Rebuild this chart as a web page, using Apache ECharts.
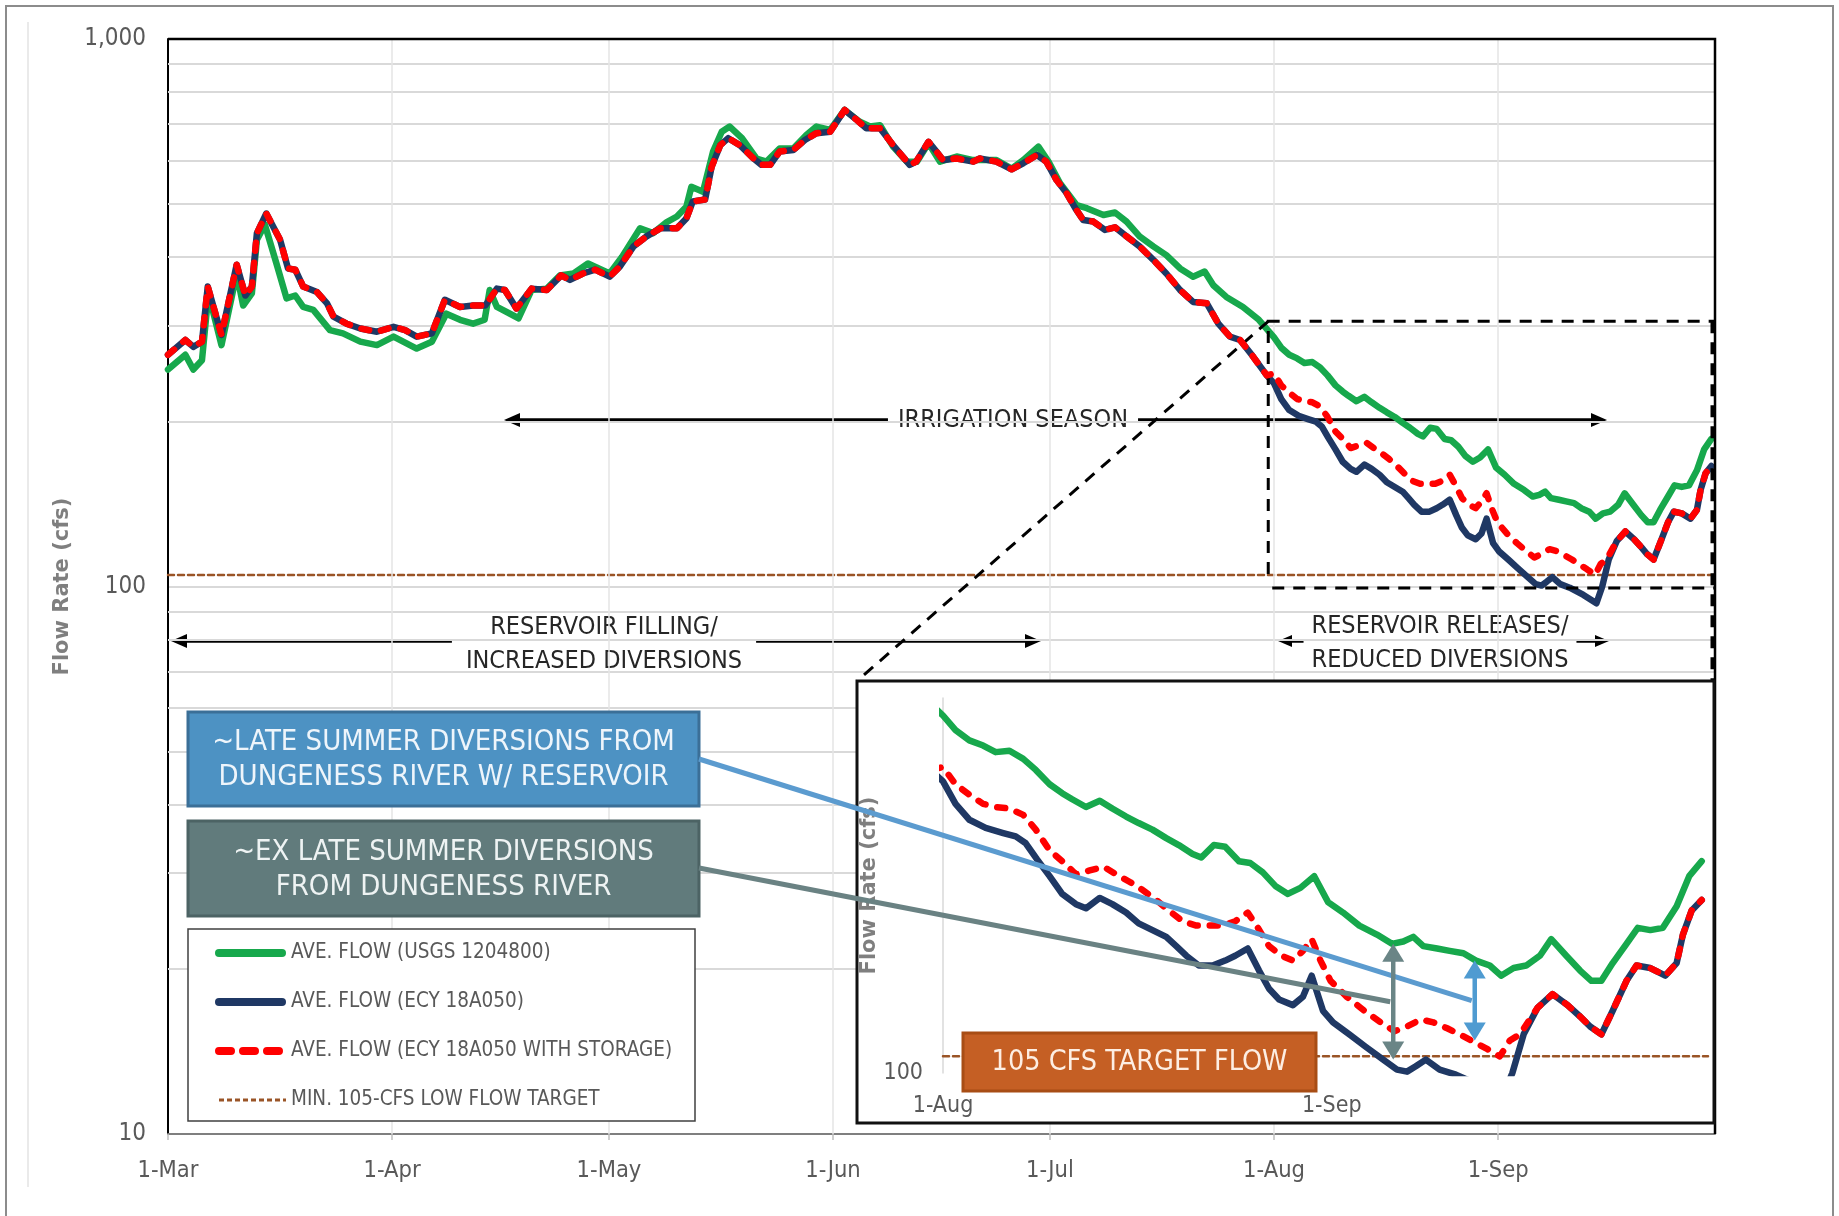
<!DOCTYPE html>
<html>
<head>
<meta charset="utf-8">
<script src="https://cdn.jsdelivr.net/npm/echarts@6/dist/echarts.min.js"></script>
<style>
  html, body { margin: 0; padding: 0; background: #ffffff; }
  #chart { width: 1839px; height: 1216px; }
</style>
</head>
<body>
<div id="chart"></div>
<script>
// x values are days since 1 March; flows are average daily flow in cfs.
const monthStarts = [0, 31, 61, 92, 122, 153, 184];
const monthLabels = ['1-Mar', '1-Apr', '1-May', '1-Jun', '1-Jul', '1-Aug', '1-Sep'];
const insetMonthStarts = [153, 184];
const insetMonthLabels = ['1-Aug', '1-Sep'];
const mainMinorFlows = [20, 30, 40, 50, 60, 70, 80, 90, 200, 300, 400, 500, 600, 700, 800, 900];
const insetGridFlows = [200, 300];
const targetFlow = 105;

// Dungeness River at USGS gage 1204800
const usgsFlow = [
  [0,249],[2.4,265],[3.5,249],[4.7,259],[5.6,343],[7.4,276],[9.5,373],[10.4,326],[11.6,343],[12.3,430],
  [13.4,458],[15.0,389],[16.4,336],[17.6,340],[18.7,324],[20.1,320],[22.4,294],[24.2,290],[26.6,280],[28.9,276],
  [31.2,286],[34.4,272],[36.5,280],[38.5,315],[40.4,307],[42.2,302],[43.8,307],[44.5,348],[45.5,324],[48.5,309],
  [50.3,348],[52.4,350],[54.2,370],[56.1,373],[58.1,389],[61.1,373],[62.8,400],[65.3,451],[67.1,442],[69.0,463],
  [70.4,474],[71.7,494],[72.4,537],[74.0,526],[75.4,623],[76.6,677],[77.7,692],[79.4,659],[81.4,605],[82.8,597],
  [84.6,631],[86.5,631],[88.3,668],[89.7,692],[91.6,682],[93.6,742],[95.7,706],[97.1,692],[98.5,696],[100.3,636],
  [102.2,597],[103.6,597],[105.2,645],[106.8,597],[109.1,610],[111.4,601],[114.6,601],[116.7,580],[118.3,601],[120.4,636],
  [121.8,597],[123.4,545],[125.7,497],[127.1,491],[129.4,477],[131.0,482],[132.6,464],[134.4,436],[136.3,418],[138.1,403],
  [140.0,381],[141.8,368],[143.4,376],[144.6,355],[146.4,338],[148.7,324],[150.9,307],[153.0,285],[154.0,273],[155.1,265],
  [156.2,261],[157.2,256],[158.3,257],[159.4,251],[160.4,243],[161.5,233],[162.5,227],[163.3,223],[164.4,218],[165.5,222],
  [166.5,217],[167.6,212],[168.6,208],[169.7,204],[170.8,199],[171.8,195],[172.9,190],[173.6,188],[174.6,195],[175.5,194],
  [176.6,186],[177.5,185],[178.5,180],[179.5,173],[180.5,169],[181.5,172],[182.6,178],[183.7,165],[184.9,160],[186.2,154],
  [187.6,150],[188.8,146],[189.7,147],[190.5,149],[191.3,145],[192.4,144],[193.4,143],[194.5,142],[195.5,139],[196.6,137],
  [197.5,133],[198.5,136],[199.5,137],[200.6,141],[201.5,148],[202.7,141],[203.8,135],[204.7,131],[205.5,131],[206.4,138],
  [207.5,146],[208.4,153],[209.4,152],[210.4,153],[211.5,163],[212.5,178],[213.5,186]
];

// ECY 18A050 through July: with and without storage are the same flow
const ecyEarly = [
  [0,265],[2.4,282],[3.5,274],[4.7,280],[5.5,353],[7.4,288],[9.5,387],[10.7,340],[11.6,353],[12.3,442],
  [13.6,480],[15.5,430],[16.6,381],[17.6,379],[18.7,353],[20.6,345],[22.0,329],[22.9,311],[24.7,302],[26.6,296],
  [28.9,292],[31.2,298],[32.8,294],[34.4,286],[36.5,290],[38.3,334],[40.4,324],[42.2,326],[43.9,326],[45.5,350],
  [46.6,348],[48.2,322],[50.3,350],[52.4,348],[54.4,370],[55.6,363],[57.4,373],[59.1,379],[61.1,368],[62.5,384],
  [64.4,418],[66.2,436],[68.1,451],[70.4,451],[71.7,470],[72.6,505],[74.3,509],[75.2,584],[76.4,640],[77.5,659],
  [79.1,640],[81.0,605],[82.1,589],[83.3,589],[84.6,623],[86.5,627],[88.1,654],[89.7,673],[91.6,677],[93.6,742],
  [95.3,711],[96.6,687],[98.5,687],[100.3,640],[102.6,589],[103.5,597],[105.2,649],[106.3,623],[107.2,601],[109.1,605],
  [111.4,597],[112.3,605],[114.6,597],[116.7,578],[118.3,593],[120.2,614],[121.5,597],[122.9,553],[124.3,523],[125.5,491],
  [126.6,467],[128.0,464],[129.6,448],[131.0,453],[132.6,436],[134.4,418],[136.3,395],[138.1,373],[140.0,348],[141.8,331],
  [143.7,329],[145.3,302],[146.9,286],[148.3,282],[150.1,263],[152.0,243]
];

// ECY 18A050, August–September, no storage releases
const ecyLate = [
  [153.0,235],[154.0,220],[155.1,210],[156.4,205],[157.8,202],[158.8,200],[159.6,196],[160.5,187],[161.5,178],[162.5,169],
  [163.6,164],[164.4,162],[165.5,167],[166.5,164],[167.6,160],[168.6,155],[169.7,152],[170.8,149],[171.6,145],[172.4,141],
  [173.4,137],[174.5,137],[175.5,139],[176.3,141],[177.3,144],[178.2,135],[179.0,128],[179.8,124],[180.9,122],[181.7,125],
  [182.4,133],[183.3,120],[184.1,116],[185.4,112],[186.7,108],[188.1,104],[189.2,101],[190.0,100.4],[190.7,102],[191.5,104],
  [192.6,101],[193.9,99.5],[195.8,96.5],[197.6,93.2],[198.4,100],[199.3,112],[200.4,121],[201.6,126],[202.8,122],[203.8,118],
  [204.6,114.6],[205.5,112],[206.4,120],[207.5,131],[208.3,137],[209.4,136],[210.6,133],[211.5,138],[212.0,150],[212.7,161],
  [213.5,166]
];

// ECY 18A050 with reservoir storage releases, August–September
const storageLate = [
  [153.0,245],[154.0,233],[155.1,226],[156.2,220],[157.2,218],[158.3,217],[159.4,213],[160.4,204],[161.5,192],[162.5,186],
  [163.6,179],[164.7,181],[165.8,183],[166.8,179],[167.9,175],[168.9,171],[170.0,166],[171.0,161],[172.1,156],[173.2,154],
  [174.2,154],[175.3,154],[176.3,156],[177.3,160],[178.0,154],[179.0,145],[180.0,141],[180.9,139],[181.7,143],[182.4,148],
  [183.1,139],[183.9,131],[185.2,125],[186.6,120],[187.9,116],[189.0,113],[190.0,114.6],[191.1,117],[192.1,116],[193.2,114],
  [194.2,112],[195.3,109.6],[196.3,107.5],[197.4,105],[198.2,110],[199.0,112],[200.4,121],[201.6,126],[202.8,122],[203.8,118],
  [204.6,114.6],[205.5,112],[206.4,120],[207.5,131],[208.3,137],[209.4,136],[210.6,133],[211.5,138],[212.0,150],[212.7,161],
  [213.5,166]
];

const ecyFlow = ecyEarly.concat(ecyLate);
const storageFlow = ecyEarly.concat(storageLate);

// Difference arrows drawn in the Aug–Sep detail: [day, upper cfs, lower cfs]
const exDiversionSpan = [188.9, 146, 104];
const reservoirDiversionSpan = [195.4, 139, 110];

const NAMES = {
  usgs: 'AVE. FLOW (USGS 1204800)',
  ecy: 'AVE. FLOW (ECY 18A050)',
  storage: 'AVE. FLOW (ECY 18A050 WITH STORAGE)',
  target: 'MIN. 105-CFS LOW FLOW TARGET'
};
const COLORS = { usgs: '#17a84c', ecy: '#1f3864', storage: '#ff0000', target: '#9a5426' };
const STYLES = {
  usgs: { color: COLORS.usgs, type: 'solid' },
  ecy: { color: COLORS.ecy, type: 'solid' },
  storage: { color: COLORS.storage, type: [8, 12] },
  target: { color: COLORS.target, type: [6, 4] }
};
const NARROW = "'Liberation Sans Narrow', 'DejaVu Sans Condensed', 'Arial Narrow', 'Roboto', sans-serif";
const TITLE_FONT = "'DejaVu Sans', 'Verdana', sans-serif";
const LABEL = '#595959';

const chart = echarts.init(document.getElementById('chart'), null, { renderer: 'canvas' });

function flowLines(axisIndex, baseZ, width) {
  const common = { type: 'line', xAxisIndex: axisIndex, yAxisIndex: axisIndex, symbol: 'none',
                   silent: true, emphasis: { disabled: true }, clip: true };
  const mk = (key, data, z, w) => Object.assign({}, common, {
    name: NAMES[key], z: z, data: data, itemStyle: { color: STYLES[key].color },
    lineStyle: { color: STYLES[key].color, width: w, type: STYLES[key].type, cap: 'round', join: 'round' }
  });
  return [
    mk('target', [[axisIndex ? 153 : 0, targetFlow], [214, targetFlow]], baseZ, 2.5),
    mk('usgs', usgsFlow, baseZ + 1, width),
    mk('ecy', ecyFlow, baseZ + 2, width),
    mk('storage', storageFlow, baseZ + 3, width)
  ];
}

function gridLineSeries(axisIndex, z, yValues, xValues, hColor, vColor) {
  return {
    type: 'line', xAxisIndex: axisIndex, yAxisIndex: axisIndex, data: [], z: z, silent: true,
    markLine: {
      silent: true, symbol: ['none', 'none'], animation: false, label: { show: false },
      emphasis: { disabled: true },
      data: yValues.map(v => ({ yAxis: v, lineStyle: { color: hColor, width: 2, type: 'solid' } }))
        .concat(xValues.map(v => ({ xAxis: v, lineStyle: { color: vColor, width: 1.5, type: 'solid' } })))
    }
  };
}

const option = {
  animation: false,
  backgroundColor: '#ffffff',
  grid: [
    { left: 168, top: 39, width: 1547, height: 1095 },
    { left: 943, top: 698, width: 765, height: 375 }
  ],
  xAxis: [
    { type: 'value', gridIndex: 0, min: 0, max: 214,
      splitLine: { show: false },
      axisLine: { show: true, lineStyle: { color: '#7f7f7f', width: 2 } },
      axisTick: { show: true, customValues: monthStarts, length: 6, lineStyle: { color: '#bfbfbf', width: 1.5 } },
      axisLabel: { customValues: monthStarts, formatter: v => monthLabels[monthStarts.indexOf(v)] || '',
                   color: LABEL, fontFamily: NARROW, fontSize: 23.5, margin: 25 } },
    { type: 'value', gridIndex: 1, min: 153, max: 214, z: 12,
      splitLine: { show: false }, axisLine: { show: false }, axisTick: { show: false },
      axisLabel: { customValues: insetMonthStarts, formatter: v => insetMonthLabels[insetMonthStarts.indexOf(v)] || '',
                   color: LABEL, fontFamily: NARROW, fontSize: 23, margin: 22 } }
  ],
  yAxis: [
    { type: 'log', logBase: 10, gridIndex: 0, min: 10, max: 1000,
      axisLine: { show: true, lineStyle: { color: '#000000', width: 2 } },
      axisTick: { show: false },
      splitLine: { show: true, lineStyle: { color: '#d9d9d9', width: 2 } },
      axisLabel: { formatter: v => Math.round(v).toLocaleString('en-US'), color: LABEL,
                   fontFamily: NARROW, fontSize: 24, margin: 22 },
      name: 'Flow Rate (cfs)', nameLocation: 'middle', nameRotate: 90, nameGap: 92,
      nameTextStyle: { fontFamily: TITLE_FONT, fontWeight: 'bold', fontSize: 21, color: '#7f7f7f' } },
    { type: 'log', logBase: 10, gridIndex: 1, min: 100, max: 300, z: 12,
      axisLine: { show: true, lineStyle: { color: '#d9d9d9', width: 1.5 } },
      axisTick: { show: false },
      splitLine: { show: false },
      axisLabel: { formatter: v => (Math.round(v) === 100 ? '100' : ''), color: LABEL,
                   fontFamily: NARROW, fontSize: 23, margin: 20 },
      name: 'Flow Rate (cfs)', nameLocation: 'middle', nameRotate: 90, nameGap: 38,
      nameTextStyle: { fontFamily: TITLE_FONT, fontWeight: 'bold', fontSize: 21, color: '#7f7f7f' } }
  ],
  series: [
    gridLineSeries(0, 1, mainMinorFlows, monthStarts.slice(1), '#d9d9d9', '#e4e4e4'),
    ...flowLines(0, 4, 6.5),
    gridLineSeries(1, 11, insetGridFlows, [184], '#d9d9d9', '#e0e0e0'),
    ...flowLines(1, 12, 6.5)
  ]
};

chart.setOption(option);

// ---------- annotation layer ----------
function arrow(x1, y1, x2, y2, o) {
  const dx = x2 - x1, dy = y2 - y1, L = Math.hypot(dx, dy);
  const ux = dx / L, uy = dy / L, px = -uy, py = ux;
  const head = o.head || 16, half = o.half || 7;
  const sx = o.start ? x1 + ux * head * 0.7 : x1, sy = o.start ? y1 + uy * head * 0.7 : y1;
  const ex = o.end ? x2 - ux * head * 0.7 : x2, ey = o.end ? y2 - uy * head * 0.7 : y2;
  const els = [{ type: 'line', silent: true, z: o.z,
    shape: { x1: sx, y1: sy, x2: ex, y2: ey }, style: { stroke: o.color, lineWidth: o.width } }];
  const tri = (tx, ty, dirx, diry) => ({ type: 'polygon', silent: true, z: o.z,
    shape: { points: [[tx, ty], [tx - dirx * head + px * half, ty - diry * head + py * half],
                      [tx - dirx * head - px * half, ty - diry * head - py * half]] },
    style: { fill: o.color } });
  if (o.end) els.push(tri(x2, y2, ux, uy));
  if (o.start) els.push(tri(x1, y1, -ux, -uy));
  return els;
}

function label(text, x, y, size, z, extra) {
  return Object.assign({ type: 'text', silent: true, z: z,
    style: Object.assign({ text: text, x: x, y: y, align: 'center', verticalAlign: 'middle',
      font: size + 'px ' + NARROW, fill: '#262626', lineHeight: Math.round(size * 1.3) }, extra || {}) });
}

function box(x, y, w, h, fill, stroke, text, size, textFill, z) {
  return [
    { type: 'rect', silent: true, z: z, shape: { x: x, y: y, width: w, height: h },
      style: { fill: fill, stroke: stroke, lineWidth: 3 } },
    label(text, x + w / 2, y + h / 2 + 1, size, z + 1, { fill: textFill, lineHeight: Math.round(size * 1.2) })
  ];
}

// legend panel keyed to the series line styles
function legendPanel(x, y, w, h, z) {
  const keys = ['usgs', 'ecy', 'storage', 'target'];
  const rows = [24, 73, 122, 171];
  const els = [{ type: 'rect', silent: true, z: z, shape: { x: x, y: y, width: w, height: h },
                 style: { fill: '#ffffff', stroke: '#404040', lineWidth: 1.5 } }];
  keys.forEach((k, i) => {
    const thin = k === 'target';
    els.push({ type: 'line', silent: true, z: z + 1,
      shape: { x1: x + 31, y1: y + rows[i], x2: x + (thin ? 98 : 94), y2: y + rows[i] },
      style: { stroke: STYLES[k].color, lineWidth: thin ? 3 : 8, lineCap: thin ? 'butt' : 'round',
               lineDash: k === 'storage' ? [12, 12] : (thin ? [5, 3] : null) } });
    els.push({ type: 'text', silent: true, z: z + 1,
      style: { text: NAMES[k], x: x + 103, y: y + rows[i], align: 'left', verticalAlign: 'middle',
               font: '20.5px ' + NARROW, fill: LABEL } });
  });
  return els;
}

const main = p => chart.convertToPixel({ gridIndex: 0 }, p);
const inset = p => chart.convertToPixel({ gridIndex: 1 }, p);
const dash = [12, 9];

// extent of the Aug–Sep detail, outlined on the main plot
const zTL = main([152.2, 305]), zBR = main([214, 99.4]);
const insetRect = { x: 857, y: 681, w: 857, h: 442 };

const gX = inset([exDiversionSpan[0], exDiversionSpan[1]]);
const gX2 = inset([exDiversionSpan[0], exDiversionSpan[2]]);
const gMid = inset([exDiversionSpan[0], Math.sqrt(exDiversionSpan[1] * exDiversionSpan[2])]);
const bX = inset([reservoirDiversionSpan[0], reservoirDiversionSpan[1]]);
const bX2 = inset([reservoirDiversionSpan[0], reservoirDiversionSpan[2]]);
const bMid = inset([reservoirDiversionSpan[0], Math.sqrt(reservoirDiversionSpan[1] * reservoirDiversionSpan[2])]);

const graphics = [
  // outer frame
  { type: 'rect', silent: true, z: 0, shape: { x: 6, y: 6, width: 1827, height: 1240 },
    style: { fill: 'none', stroke: '#8c8c8c', lineWidth: 2 } },
  { type: 'line', silent: true, z: 0, shape: { x1: 28, y1: 22, x2: 28, y2: 1187 },
    style: { stroke: '#e3e3e3', lineWidth: 1.5 } },
  // top and right edges of the plot area
  { type: 'polyline', silent: true, z: 8, shape: { points: [[168, 39], [1715, 39], [1715, 1134]] },
    style: { stroke: '#000000', lineWidth: 2.5, fill: 'none' } },

  // IRRIGATION SEASON
  ...arrow(504, 420, 1607, 420, { color: '#000', width: 3.5, head: 16, half: 7, start: true, end: true, z: 2 }),
  label('IRRIGATION SEASON', 1013, 420, 25, 3, { backgroundColor: '#ffffff', padding: [4, 10] }),

  // RESERVOIR FILLING / INCREASED DIVERSIONS
  ...arrow(171, 641, 1041, 641, { color: '#000', width: 3.5, head: 16, half: 7, start: true, end: true, z: 2 }),
  label('RESERVOIR FILLING/\nINCREASED DIVERSIONS', 604, 644, 25, 3, { backgroundColor: '#ffffff', padding: [6, 14], lineHeight: 34 }),

  // RESERVOIR RELEASES / REDUCED DIVERSIONS
  ...arrow(1278, 641, 1609, 641, { color: '#000', width: 3.5, head: 14, half: 6, start: true, end: true, z: 2 }),
  label('RESERVOIR RELEASES/\nREDUCED DIVERSIONS', 1440, 643, 25, 3, { backgroundColor: '#ffffff', padding: [6, 8], lineHeight: 34 }),

  // outline of the detail window and its callout lines
  { type: 'polyline', silent: true, z: 7, shape: { points: [[zTL[0], zBR[1] - 14], [zTL[0], zTL[1]], [zBR[0], zTL[1]]] },
    style: { stroke: '#000', lineWidth: 3, lineDash: dash, fill: 'none' } },
  { type: 'line', silent: true, z: 7, shape: { x1: zTL[0] + 4, y1: zBR[1], x2: zBR[0], y2: zBR[1] },
    style: { stroke: '#000', lineWidth: 3, lineDash: dash } },
  { type: 'line', silent: true, z: 7, shape: { x1: zBR[0] - 2, y1: zTL[1], x2: zBR[0] - 2, y2: insetRect.y },
    style: { stroke: '#000', lineWidth: 5, lineDash: dash } },
  { type: 'line', silent: true, z: 7, shape: { x1: zTL[0], y1: zTL[1], x2: insetRect.x, y2: insetRect.y },
    style: { stroke: '#000', lineWidth: 3, lineDash: dash } },

  // detail panel background
  { type: 'rect', silent: true, z: 10, shape: { x: insetRect.x, y: insetRect.y, width: insetRect.w, height: insetRect.h },
    style: { fill: '#ffffff', stroke: '#111111', lineWidth: 3 } },

  // legend
  ...legendPanel(188, 929, 507, 192, 20),

  // call-out boxes
  ...box(188, 712, 511, 94, '#4d92c3', '#3b6f97',
         '~LATE SUMMER DIVERSIONS FROM\nDUNGENESS RIVER W/ RESERVOIR', 29, '#eef5fb', 20),
  ...box(188, 821, 511, 95, '#617b7c', '#4c6364',
         '~EX LATE SUMMER DIVERSIONS\nFROM DUNGENESS RIVER', 29, '#eef3f3', 20),

  // connector lines to the difference arrows
  { type: 'line', silent: true, z: 22, shape: { x1: 699, y1: 759, x2: bMid[0] - 3, y2: bMid[1] },
    style: { stroke: '#5b9bcf', lineWidth: 5 } },
  { type: 'line', silent: true, z: 22, shape: { x1: 699, y1: 868, x2: gMid[0] - 3, y2: gMid[1] },
    style: { stroke: '#6a8283', lineWidth: 5 } },
  ...arrow(gX[0], gX[1], gX2[0], gX2[1], { color: '#6a8586', width: 4.5, head: 18, half: 11, start: true, end: true, z: 23 }),
  ...arrow(bX[0], bX[1], bX2[0], bX2[1], { color: '#4f9bd1', width: 4.5, head: 18, half: 11, start: true, end: true, z: 23 }),

  // target flow tag
  ...box(963, 1033, 353, 58, '#c55f24', '#a84d15', '105 CFS TARGET FLOW', 28.5, '#fdeee3', 24)
];

chart.setOption({ graphic: { elements: graphics } });
</script>
</body>
</html>
